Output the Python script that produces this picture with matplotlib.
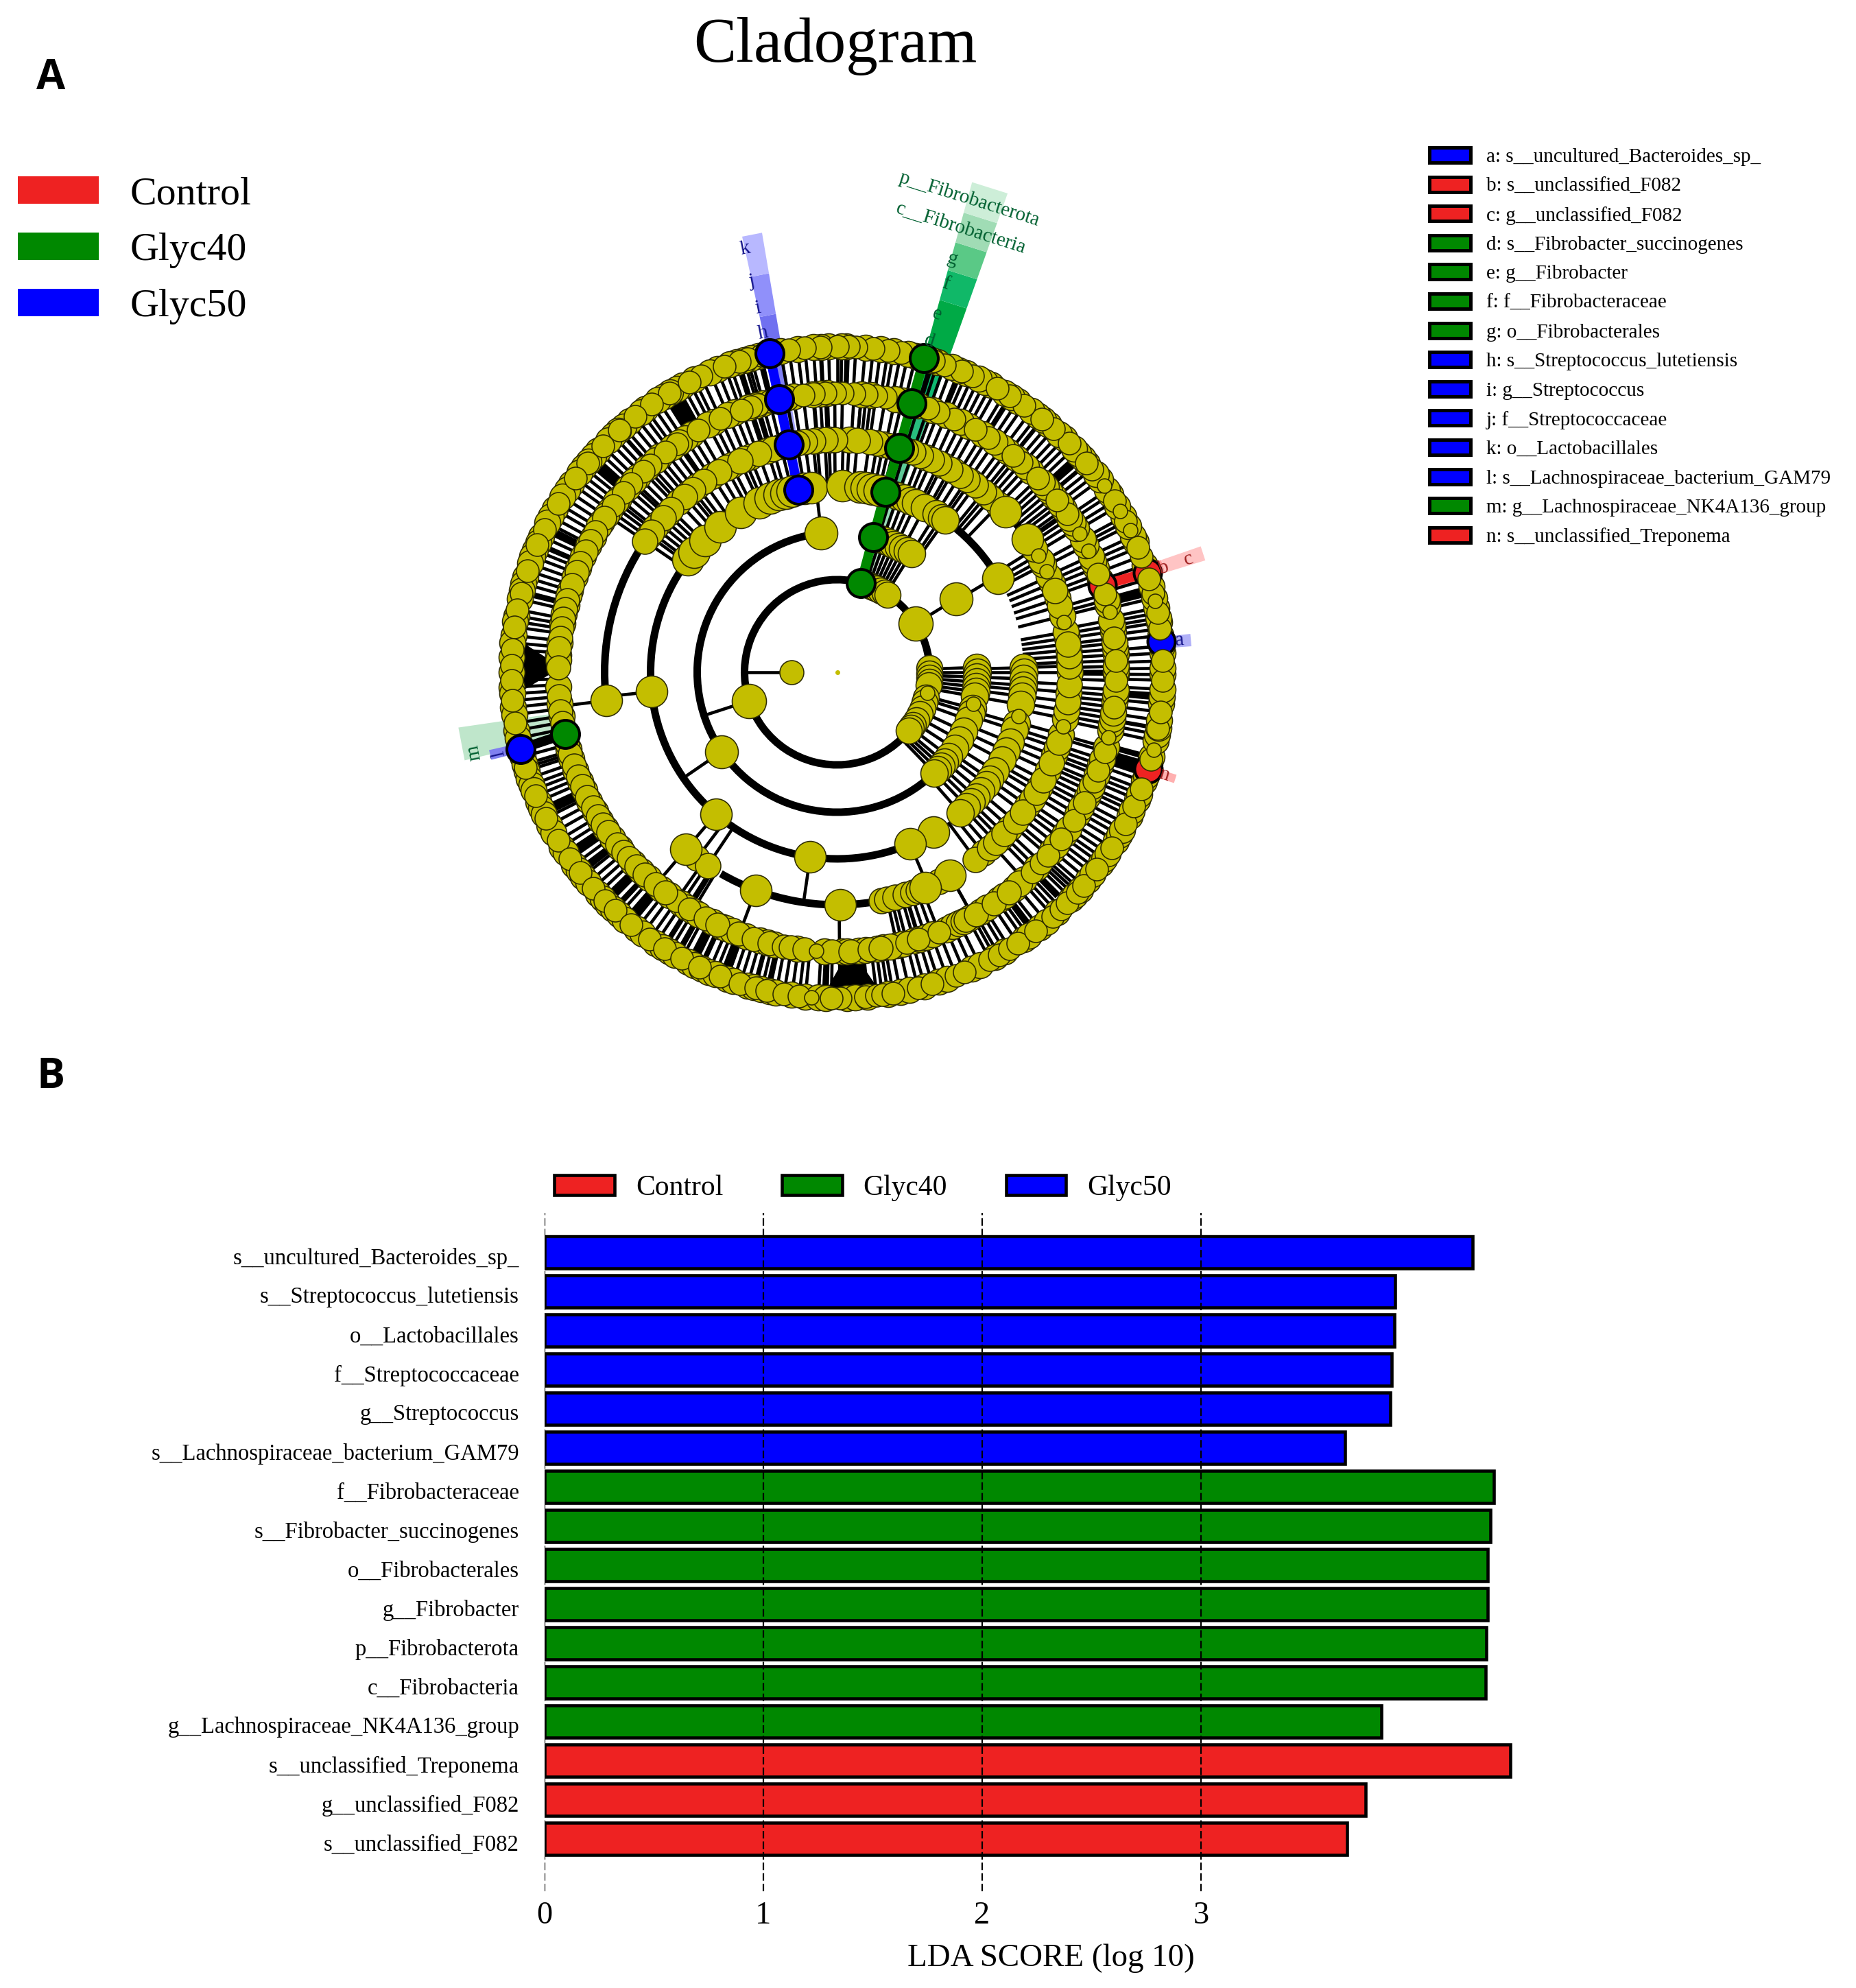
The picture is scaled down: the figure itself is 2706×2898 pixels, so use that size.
import numpy as np
import matplotlib
matplotlib.use("Agg")
import matplotlib.pyplot as plt
from matplotlib.collections import LineCollection
from matplotlib.patches import Arc, Patch, Polygon, Rectangle, Wedge
from matplotlib.transforms import ScaledTranslation

plt.rcParams['font.family'] = ['Liberation Serif', 'DejaVu Serif']

RED = '#EE2222'
GREEN = '#008800'
BLUE = '#0000FF'
YELLOW = '#C4BE00'

group_names = ['Control', 'Glyc40', 'Glyc50']
group_colors = [RED, GREEN, BLUE]

# panel B
lda_taxa = ['s__uncultured_Bacteroides_sp_', 's__Streptococcus_lutetiensis', 'o__Lactobacillales',
            'f__Streptococcaceae', 'g__Streptococcus', 's__Lachnospiraceae_bacterium_GAM79',
            'f__Fibrobacteraceae', 's__Fibrobacter_succinogenes', 'o__Fibrobacterales', 'g__Fibrobacter',
            'p__Fibrobacterota', 'c__Fibrobacteria', 'g__Lachnospiraceae_NK4A136_group',
            's__unclassified_Treponema', 'g__unclassified_F082', 's__unclassified_F082']
lda_scores = [4.24, 3.888, 3.883, 3.87, 3.865, 3.657, 4.34, 4.322, 4.31, 4.31, 4.305, 4.30, 3.824, 4.415, 3.752, 3.668]
lda_groups = [2, 2, 2, 2, 2, 2, 1, 1, 1, 1, 1, 1, 1, 0, 0, 0]

# right legend of panel A
key_labels = ['a: s__uncultured_Bacteroides_sp_', 'b: s__unclassified_F082', 'c: g__unclassified_F082',
              'd: s__Fibrobacter_succinogenes', 'e: g__Fibrobacter', 'f: f__Fibrobacteraceae',
              'g: o__Fibrobacterales', 'h: s__Streptococcus_lutetiensis', 'i: g__Streptococcus',
              'j: f__Streptococcaceae', 'k: o__Lactobacillales', 'l: s__Lachnospiraceae_bacterium_GAM79',
              'm: g__Lachnospiraceae_NK4A136_group', 'n: s__unclassified_Treponema']
key_groups = [2, 0, 0, 1, 1, 1, 1, 2, 2, 2, 2, 2, 1, 0]

# cladogram, angles in degrees
ring_radius = [67, 135, 204, 272, 339, 407, 475]

ring6_back = [-88.3, -86.8, -84.6, -81, -78.8, -77.2, -74.4, -71.8, -70.2, -65.5, -64, -61, -59, -55, -54, -51.6, -50,
              -47.5, -44, -43.2, -41.8, -39.6, -38.3, -36, -35, -33.8, -31.2, -30, -28.9, -26.2, -25.2, -23, -22,
              -19.6, -18.5, -16.3, -15, -12.2, -11, -9.8, -8.5, -5.6, -4.3, -3, -0.4, 0.7, 3.4, 4.6, 6.5, 8.8, 9.6,
              11.4, 13.2, 15.3, 19.2, 23.6, 24.7, 26.7, 28.5, 30.6, 33, 34, 36.2, 37.4, 39.8, 41, 42.2, 43.4, 45.8,
              47, 49.5, 50.8, 52, 53.4, 56.3, 57.6, 59, 61.8, 63, 64.2, 66.6, 68, 69.4, 72, 73.2, 76, 77.4, 80, 82.3,
              85, 88.4, 89.2, 91.5, 92.8, 94.2, 97, 100, 104, 105.3, 106.6, 108, 109.2, 111.6, 113, 116, 118.3, 119.5,
              120.8, 122.1, 123.4, 126, 127, 129.6, 131, 132.2, 133.4, 134.6, 137.2, 138.4, 139.8, 141, 142.2, 144.6,
              146, 147.4, 150, 151.4, 152.7, 155.3, 156.6, 158, 159.2, 160.5, 163, 164.2, 165.5, 167, 170, 171, 173.5,
              174.8, 177.4, 180, 182.6, 183.8, 186.2, 187.5, 190.3, 191.7, 195, 196.4, 197.6, 199, 200.2, 201.2, 203.4,
              204.7, 205.8, 208, 209.5, 212.4, 213.6, 216.2, 217.5, 218.8, 220.2, 222.8, 224, 225.3, 226.5, 228, 229.4,
              232, 233.4, 236.2, 237.6, 239, 240.2, 242.8, 244, 245.4, 246.8, 248, 250.2, 251.4, 254, 255.2, 256.6, 258,
              259.2, 262, 264.4, 266.7, 268]
ring6_top = [-89.5, -85, -83, -82, -80.1, -75.6, -73, -68.6, -67, -62, -60.2, -58, -56.3, -52.5, -48.5, -46.5, -45, -42.5,
             -40.9, -37.2, -32.6, -27.7, -24.3, -21, -15.5, -10, -7, -1.4, 2, 7.7, 10.5, 14, 16.7, 20.9, 22.5, 27.6,
             31.7, 38.6, 40, 44.6, 48.3, 51, 55, 58, 60.6, 65.4, 67.5, 70.7, 72.8, 78.7, 81, 83.6, 86.7, 88, 90, 93,
             95.7, 98.5, 103.5, 106, 107.5, 110.2, 114.7, 117, 121, 124.7, 128.3, 132, 136, 140, 143.4, 148.8, 154, 157,
             161.8, 166, 168.9, 172, 176, 178.8, 181.4, 185, 189, 197, 202.3, 206.6, 211.1, 215, 218, 221.5, 224.5, 227,
             230.8, 234.9, 238, 241.5, 245, 249, 252.7, 255.5, 257.5, 260.6, 263.3, 269]
ring5_back = [-77.6, -76.5, -74, -72.8, -71.5, -70, -48, -44.4, -39.8, -38.2, -35.4, -34, -30.6, -29, -26.5,
              -25.2, -24, -21.6, -19.4, -18.2, -15.6, -12, -10.8, -9.6, -8.4, -6, -4.8, -3.6, -0.4, 0.2, 1.2, 3.6, 4.8,
              6, 8.4, 9.6, 10.8, 14, 15, 19.4, 22, 23.3, 24.6, 27, 28.4, 31, 32.4, 33.6, 35.8, 37, 39.2, 40.4, 41.6, 42.8,
              46, 47.4, 50, 52.4, 53.8, 55.6, 58.6, 62, 63.6, 67, 70, 73, 76.5, 78, 83, 85, 92, 93.5, 95, 99, 100.5, 105.5,
              107, 108.5, 111.5, 113, 116.2, 117.6, 121.5, 123, 124.5, 126.3, 129.4, 130.6, 133, 135.5, 136.8, 138.6,
              141.5, 142.3, 144.5, 145.7, 236, 237.4, 238.8]
ring5_top = [-75.5, -73, -68.6, -60.9, -45.7, -43, -41, -36.7, -32, -27.8, -23, -20.6,
             -16.5, -7.2, -1.7, 2.4, 7, 16.2, 20.6, 34.6, 38, 44, 48.7, 51, 57.2, 60.4, 65.2, 68.7, 71, 80, 82, 84, 86.5,
             88.9, 90.5, 92.4, 94.8, 97, 104, 106.5, 108, 110, 114.7, 119.8, 125, 127.9, 132, 134, 137.5, 140, 143.3, 234.8,
             238]
# ring 5 nodes with no line back to ring 4, they sit on the hidden arc
ring5_arc = [146.5, 149.9, 152, 154.3, 157, 159, 161.8, 165, 167, 169, 171, 172.9, 175, 179, 185, 188, 190.5, 195, 197,
             199.5, 202, 204, 206.5, 209, 211, 213, 215, 218, 220, 221.8, 224, 226.5, 229.5, 232, 242, 244.6, 249.3, 252.7,
             256, 259, 260.5, 263.3, 269, -87.3, -83.3, -81, -62.5, -60.2, -55.8, -52]
ring5_arc_back = [147.5, 148.5, 151, 153, 155.5, 158, 160, 163, 164, 166, 168, 170, 174, 176.5, 177.5, 183, 186.5, 189,
                  192, 193.5, 196, 198, 200.5, 203, 205, 207.5, 210, 212, 214, 216.5, 219, 223, 225.5, 227.5, 231, 233,
                  240.2, 243.5, 245.6, 246.5, 248, 251, 254, 255.5, 257, 261.8, 267.4, -89, -88, -85.5, -84.2, -81.8,
                  -80.4, -79, -67, -65.5, -64.2, -63, -61.6, -59, -57.5, -54.5, -53.2, -50.6, -49.2]
ring4_back = [-51, -45.5, -42, -35, -33, -29.5, -25, -21, -19, -15.5, -11.5, -9.5, -5,
              0, 2.5, 5.5, 8.5, 10, 14, 18.5, 22.5, 24.3, 27.5, 28.8, 32, 46, 49.8, 55, 60, 63, 67.5, 75.7, 78.5, 87, 92,
              95, 102.5, 107.5, 112, 113.5, 117, 118.5, 122.5, 127, 129.5, 133, 137, 140, 141.5, 144]
ring4_top = [-53.5, -49, -47, -44, -39.9, -37, -31, -27.6, -23, -17.5, -7.3, -3, 1.5, 4, 7,
             16.6, 20.6, 48.5, 51, 53.5, 56, 58, 61, 64, 66, 69, 71, 73, 77, 80, 82, 85, 90.6, 93, 96, 98, 100, 104, 106,
             109.8, 114.7, 120.5, 125, 128.4, 131, 135.6, 138.5, 143, 145.7, 233, 236.2]
ring4_side = [-79, -77.7, -75.5, -73, -71, -69.5, -64]
ring4_arc = [35, 43.7, -60.9, -67.7, -89.3, 249.5, 187, 229.5]
ring3_top = [1.4, 0, -2, -4, -5.5, -7.4, -10, -16, -18, -22, -25, -28, -32, -35, -37, -39.6, -42, -44, -46, -48.8, 73, 71,
             69, 67, 65, 62, 58, 56, 54.6]
ring3_arc = [143, 140, 135, 128.8, 121, 114.7, 111, 108, 106, 104, 100, 98, 88.5, 83, 81, 79, 77, 30.3, -58.8, -67, 186,
             229.5, 261.7]
ring2_top = [72, 70, 68, 66, 64, 62, 60, 58, 2, 0, -2, -4, -6, -8, -10, -15, -17, -20, -25, -29, -33, -37, -40, -42, -44, -46]
ring2_arc = [96.5, 31.5, 214.5]
ring1_arc = [73, 71, 69, 67, 65, 62, 59, 57, 2.7, -1, -3.5, -6, -8, -16, -19, -23, -27, -31, -35, -37, -39]
ring1_big = [198, 31.7]
ring0_nodes = [180]

# small nodes as (ring, angle)
small_rings = [6, 6, 6, 6, 6, 6, 5, 5, 5, 5, 5, 4, 4, 4, 4, 3, 2, 1]
small_angles = [35, 29.7, 25.8, 12.6, -13.8, 265.5, 29.8, 25.8, 12.5, -13.5, 265.7, 30, 25.7, 12.5, -13.4, -13.6, -13, -13]

# arcs joining sister nodes: radius index, first angle, last angle
arc_rings = [1, 2, 3, 3, 4, 4, 4, 5]
arc_starts = [3, 96.5, 147, 30, 148, 240, 34, 146]
arc_ends = [314, 310, 289, 52, 187, 279, 44, 230]

# lines leaving a node on an arc: inner ring, angle
spoke_rings = [1, 1, 2, 3, 4, 2, 3, 4, 3, 4, 3, 4, 2, 3, 4, 4, 3, 4]
spoke_angles = [198, 31.7, 31, 30.3, 35, 214.5, 186, 187, 229.5, 229.5, 261.7, 249.5, 96.5, 88.5, 85, -89.5, -67, -60.9]

# solid black patches in the outer band
wedge_starts = [119, 138, 153, 204.8, 213.5, 217, 224, 229, 240, 243, 249, 267.3, -53.5, -46, -18.5, -5, 41, 14]
wedge_ends = [122, 140, 154.5, 206.3, 215, 218.5, 225.5, 231, 241, 244, 250.5, 268.5, -52.5, -44.8, -16.5, -3.6, 42.5, 15.5]
spike_angles = [179, -87.3]

# highlighted clades
green_chain = [75, 75, 75, 74.5, 74.5, 74.5]
blue_chain = [102, 102, 102, 102]
green_edges = [145, 204, 272, 339, 407, 475, 563, 608, 650, 695, 741]
green_shades = ['#c5e9d0', '#9adcb8', '#5cc997', '#28bd7e', '#0fb870', '#00aa46', '#10b868', '#5ac986', '#a0dcb5', '#cdeed8']
blue_edges = [272, 339, 407, 475, 530, 590, 650]
blue_shades = ['#c0c0f8', '#a0a0f8', '#8080f5', '#7070f0', '#9090fa', '#b8b8ff']

green_labels = ['p__Fibrobacterota', 'c__Fibrobacteria', 'g', 'f', 'e', 'd']
green_label_r = [716, 672, 625, 588, 542, 501]
blue_labels = ['k', 'j', 'i', 'h']
blue_label_r = [632, 583, 543, 506]

fig = plt.figure(figsize=(27.06, 28.98), dpi=100)


def px(d):
    # pixels to points
    return d * 0.72


def polar(r, angle):
    a = np.radians(angle)
    return r * np.cos(a), r * np.sin(a)


# cladogram axes, one data unit is one pixel, circle centre at the origin
ax = fig.add_axes([0, 0, 1, 1])
ax.set_xlim(-1220.5, 2706 - 1220.5)
ax.set_ylim(980 - 2898, 980)
ax.axis('off')


def strip(r1, r2, centre, half, color, z=1):
    a, b = centre - half, centre + half
    pts = [polar(r1, a), polar(r2, a), polar(r2, b), polar(r1, b)]
    ax.add_patch(Polygon(pts, closed=True, facecolor=color, edgecolor='none', zorder=z))


for i in range(len(green_shades)):
    strip(green_edges[i], green_edges[i + 1], 72.5, 2.1, green_shades[i])
for i in range(len(blue_shades)):
    strip(blue_edges[i], blue_edges[i + 1], 101, 1.3, blue_shades[i])
strip(400, 558, 190.8, 2.5, '#bfe6cb')
strip(475, 520, 193.4, 0.8, '#8080f0')
strip(407, 500, 18, 1.1, '#ff9c9c')
strip(500, 561, 18, 1.1, '#ffc4c4')
strip(475, 518, 5.2, 1, '#b0b0f8')
strip(475, 517, -17.5, 0.7, '#ffb0b0')

# radial lines: nodes off an arc reach back to the ring below
segs = []
for ring, angles in [(6, ring6_back + ring6_top), (5, ring5_back + ring5_top), (4, ring4_back + ring4_top),
                     (3, ring3_top), (2, ring2_top)]:
    for a in angles:
        segs.append([polar(ring_radius[ring - 1], a), polar(ring_radius[ring], a)])
for ring, a in zip(spoke_rings, spoke_angles):
    segs.append([polar(ring_radius[ring], a), polar(ring_radius[ring + 1], a)])
for a in ring0_nodes:
    segs.append([polar(ring_radius[0], a), polar(ring_radius[1], a)])
ax.add_collection(LineCollection(segs, colors='black', linewidths=px(4.6), zorder=2))

for ring, a1, a2 in zip(arc_rings, arc_starts, arc_ends):
    d = 2 * ring_radius[ring]
    ax.add_patch(Arc((0, 0), d, d, theta1=a1, theta2=a2, color='black', lw=px(11), zorder=2))

for a1, a2 in zip(wedge_starts, wedge_ends):
    ax.add_patch(Wedge((0, 0), 458, a1, a2, width=40, facecolor='black', edgecolor='none', zorder=2))
for a in spike_angles:
    pts = [polar(402, a), polar(462, a - 4.5), polar(462, a + 4.5)]
    ax.add_patch(Polygon(pts, closed=True, facecolor='black', edgecolor='none', zorder=2))

# thick links between the marked nodes
rr = [ring_radius[i] for i in range(1, 7)]
xg, yg = polar(np.array(rr), np.array(green_chain))
ax.plot(xg, yg, color=GREEN, lw=px(14), zorder=3, solid_capstyle='butt')
xb, yb = polar(np.array(rr[2:]), np.array(blue_chain))
ax.plot(xb, yb, color=BLUE, lw=px(14), zorder=3, solid_capstyle='butt')
xr, yr = polar(np.array([407, 475]), np.array([18.2, 17.8]))
ax.plot(xr, yr, color=RED, lw=px(14), zorder=3, solid_capstyle='butt')
xm, ym = polar(np.array([407, 475]), np.array([192.8, 193.6]))
ax.plot(xm, ym, color='black', lw=px(14), zorder=3, solid_capstyle='butt')


def nodes(r, angles, d, color=YELLOW, z=4, edge='#2e2c00', lw=1.6):
    x, y = polar(np.full(len(angles), float(r)), np.array(angles))
    ax.scatter(x, y, s=px(d) ** 2, c=color, edgecolors=edge, linewidths=px(lw), zorder=z)


nodes(ring_radius[6], ring6_back, 38)
nodes(ring_radius[5], ring5_back, 38)
nodes(ring_radius[5], ring5_arc_back, 38)
nodes(ring_radius[4], ring4_back, 38)
# marked nodes partly hidden by yellow ones
nodes(ring_radius[6], [17.8, -17.3], 40, RED, 5, 'black', 4)
nodes(ring_radius[5], [18.2], 40, RED, 5, 'black', 4)
nodes(ring_radius[6], [5.4], 40, BLUE, 5, 'black', 4)

nodes(ring_radius[6], ring6_top, 33, z=6)
nodes(ring_radius[5], ring5_top, 33, z=6)
nodes(ring_radius[5], ring5_arc, 35, z=6)
nodes(ring_radius[4], ring4_top, 37, z=6)
nodes(ring_radius[4], ring4_side, 37, z=6)
nodes(ring_radius[4], ring4_arc, 46, z=6)
nodes(ring_radius[3], ring3_top, 40, z=6)
nodes(ring_radius[3], ring3_arc, 46, z=6)
nodes(ring_radius[2], ring2_top, 40, z=6)
nodes(ring_radius[2], ring2_arc, 48, z=6)
nodes(ring_radius[1], ring1_arc, 38, z=6)
nodes(ring_radius[1], ring1_big, 50, z=6)
nodes(ring_radius[0], ring0_nodes, 35, z=6)
nodes(0, [0], 7, z=6, lw=0)
for ring, a in zip(small_rings, small_angles):
    nodes(ring_radius[ring], [a], 21, z=7)

for i in range(6):
    nodes(rr[i], [green_chain[i]], 41, GREEN, 8, 'black', 4)
for i in range(4):
    nodes(rr[i + 2], [blue_chain[i]], 41, BLUE, 8, 'black', 4)
nodes(407, [192.8], 41, GREEN, 8, 'black', 4)
nodes(475, [193.6], 41, BLUE, 8, 'black', 4)

# clade letters
for name, r in zip(green_labels, green_label_r):
    x, y = polar(r, 74.4)
    ax.text(x, y, name, fontsize=21, color='#006030', rotation=-17.5, ha='center', va='center', zorder=9)
for name, r in zip(blue_labels, blue_label_r):
    x, y = polar(r, 102.3)
    ax.text(x, y, name, fontsize=21, color='#14148c', rotation=11, ha='center', va='center', zorder=9)
for name, r, a, rot, col in [('b', 500, 17.7, 18, '#a02020'), ('c', 538, 17.8, 18, '#a02020'),
                             ('a', 502, 5.3, 5, '#14148c'), ('n', 500, -17.4, -17, '#a02020'),
                             ('m', 542, 192.5, 101, '#006030'), ('l', 507, 193.5, 103, '#14148c')]:
    x, y = polar(r, a)
    ax.text(x, y, name, fontsize=21, color=col, rotation=rot, ha='center', va='center', zorder=9)

# page furniture in pixel coordinates
ov = fig.add_axes([0, 0, 1, 1])
ov.set_xlim(0, 2706)
ov.set_ylim(2898, 0)
ov.axis('off')
ov.patch.set_alpha(0)

ov.text(1218, 68, 'Cladogram', fontsize=67, ha='center', va='center')
ov.text(74, 114, 'A', fontsize=44, fontweight='bold', family='Open Sans', ha='center', va='center')
ov.text(74, 1571, 'B', fontsize=44, fontweight='bold', family='Open Sans', ha='center', va='center')

for i in range(3):
    yc = 277 + 82 * i
    ov.add_patch(Rectangle((26, yc - 20), 118, 40, facecolor=group_colors[i], edgecolor='none'))
    ov.text(190, yc + 6, group_names[i], fontsize=41.7, ha='left', va='center')

for i in range(len(key_labels)):
    yc = 226 + 42.6 * i
    ov.add_patch(Rectangle((2084, yc - 11), 60, 22, facecolor=group_colors[key_groups[i]], edgecolor='black', lw=px(5)))
    ov.text(2167, yc + 3, key_labels[i], fontsize=21, ha='left', va='center')

# panel B, bars
bx = fig.add_axes([794 / 2706, (2898 - 2757) / 2898, 1476 / 2706, (2757 - 1768) / 2898])
bx.patch.set_alpha(0)
colors = [group_colors[g] for g in lda_groups]
bx.barh(range(len(lda_taxa)), lda_scores, height=0.816, color=colors, edgecolor='black', linewidth=px(4.6), zorder=2)
bx.set_xlim(0, 4.627)
bx.set_ylim(16.34, -1.01)
bx.set_yticks(range(len(lda_taxa)))
bx.set_yticklabels(lda_taxa, fontsize=23.5)
bx.set_xticks([0, 1, 2, 3])
bx.tick_params(axis='both', length=0)
bx.tick_params(axis='y', pad=px(37))
bx.tick_params(axis='x', pad=px(14), labelsize=33.5)
# labels sit a little under the bar centres
shift = ScaledTranslation(0, -5 / 100, fig.dpi_scale_trans)
for lab in bx.get_yticklabels():
    lab.set_transform(lab.get_transform() + shift)
bx.xaxis.grid(True, color='black', linestyle=(0, (5, 2)), linewidth=px(2.2), zorder=3)
bx.set_axisbelow(False)
for s in bx.spines.values():
    s.set_visible(False)
bx.set_xlabel('LDA SCORE (log 10)', fontsize=33.8, labelpad=px(20))

handles = [Patch(facecolor=group_colors[i], edgecolor='black', linewidth=px(4.6), label=group_names[i]) for i in range(3)]
bx.legend(handles=handles, ncols=3, loc='center left', bbox_to_anchor=(0.0098, 1.0365), frameon=False, fontsize=30,
          borderpad=0, borderaxespad=0, handlelength=2.1, handleheight=0.72, handletextpad=0.74, columnspacing=2.06)

fig.savefig('out.png', dpi=100)
